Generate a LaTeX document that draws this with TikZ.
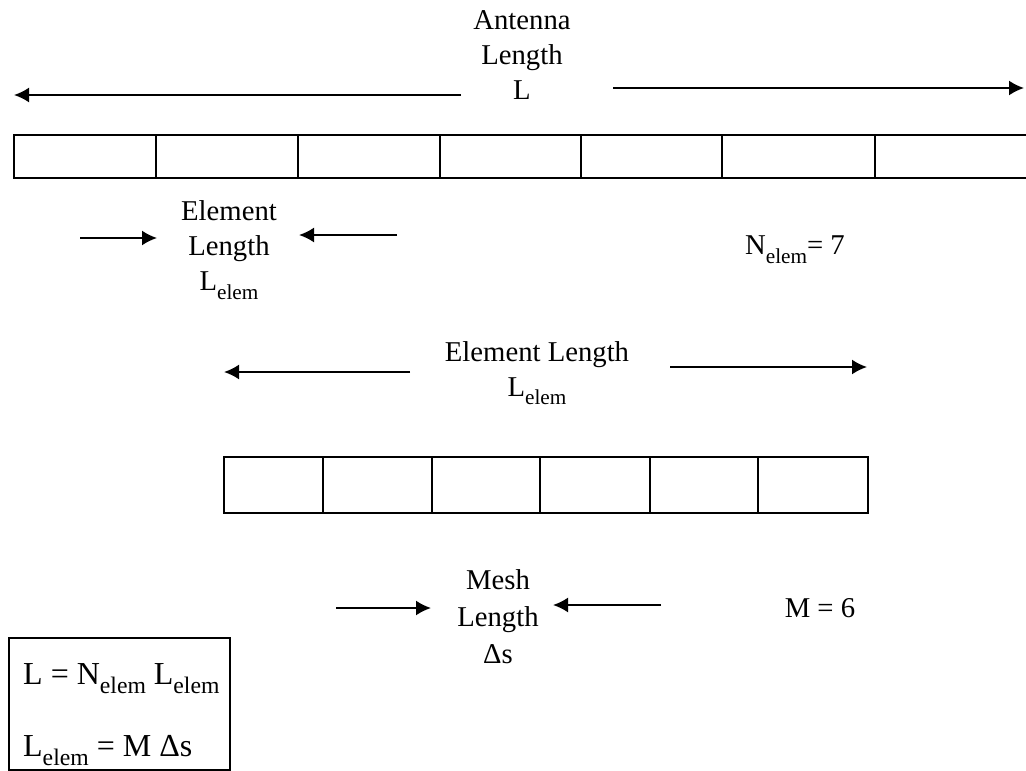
\documentclass[tikz,border=0pt]{standalone}
\usepackage{fontspec}
\setmainfont{Liberation Serif}
\usetikzlibrary{arrows.meta}

\newcommand{\lowsub}[1]{\raisebox{-0.3em}{\scalebox{0.74}{#1}}}

\begin{document}
\begin{tikzpicture}[
    x=1pt, y=-1pt,
    txt/.style={align=center, inner sep=0pt,
        font=\fontsize{28.7}{35}\selectfont},
    eqtxt/.style={anchor=base west, inner sep=0pt,
        font=\fontsize{32}{38}\selectfont},
    eqbox/.style={draw=black, line width=1.6pt, anchor=north west,
        minimum width=221pt, minimum height=132pt, inner sep=0pt},
    bar/.style={draw=black, line width=2.8pt},
    divider/.style={draw=black, line width=1.3pt},
    dim/.style={line width=1.9pt, -{Latex[length=15pt, width=15pt]}}
]
    \useasboundingbox (0,0) rectangle (1026,771);

    % antenna and its elements
    \node[txt] (antenna) at (522,55) {Antenna\\Length\\L};
    \coordinate (antL1) at (461,95);  \coordinate (antL2) at (14,95);
    \coordinate (antR1) at (613,88);  \coordinate (antR2) at (1024,88);
    \draw[dim] (antL1) -- (antL2);
    \draw[dim] (antR1) -- (antR2);

    \draw[bar] (14,135) rectangle (1040,178);
    \foreach \x in {156,298,440,581,722,875}
        \draw[divider] (\x,135) -- (\x,178);

    \node[txt] (elem) at (229,250) {Element\\Length\\L\lowsub{elem}};
    \coordinate (elL1) at (80,238);   \coordinate (elL2) at (157,238);
    \coordinate (elR1) at (397,235);  \coordinate (elR2) at (299,235);
    \draw[dim] (elL1) -- (elL2);
    \draw[dim] (elR1) -- (elR2);

    \node[txt] (nelem) at (795,250) {N\lowsub{elem}= 7};

    % one element and its mesh
    \node[txt] (element) at (537,373) {Element Length\\L\lowsub{elem}};
    \coordinate (emL1) at (410,372);  \coordinate (emL2) at (224,372);
    \coordinate (emR1) at (670,367);  \coordinate (emR2) at (867,367);
    \draw[dim] (emL1) -- (emL2);
    \draw[dim] (emR1) -- (emR2);

    \draw[bar] (224,457) rectangle (868,513);
    \foreach \x in {323,432,540,650,758}
        \draw[divider] (\x,457) -- (\x,513);

    \node[txt] (mesh) at (498,617) {Mesh\\[2pt]Length\\[2pt]Δs};
    \coordinate (mhL1) at (336,608);  \coordinate (mhL2) at (431,608);
    \coordinate (mhR1) at (661,605);  \coordinate (mhR2) at (553,605);
    \draw[dim] (mhL1) -- (mhL2);
    \draw[dim] (mhR1) -- (mhR2);

    \node[txt] (mcount) at (820,608) {M = 6};

    % relations
    \node[eqbox] (eqbox) at (8,637) {};
    \node[eqtxt] (eqone) at (23,684) {L = N\lowsub{elem} L\lowsub{elem}};
    \node[eqtxt] (eqtwo) at (23,756) {L\lowsub{elem} = M Δs};
\end{tikzpicture}
\end{document}
